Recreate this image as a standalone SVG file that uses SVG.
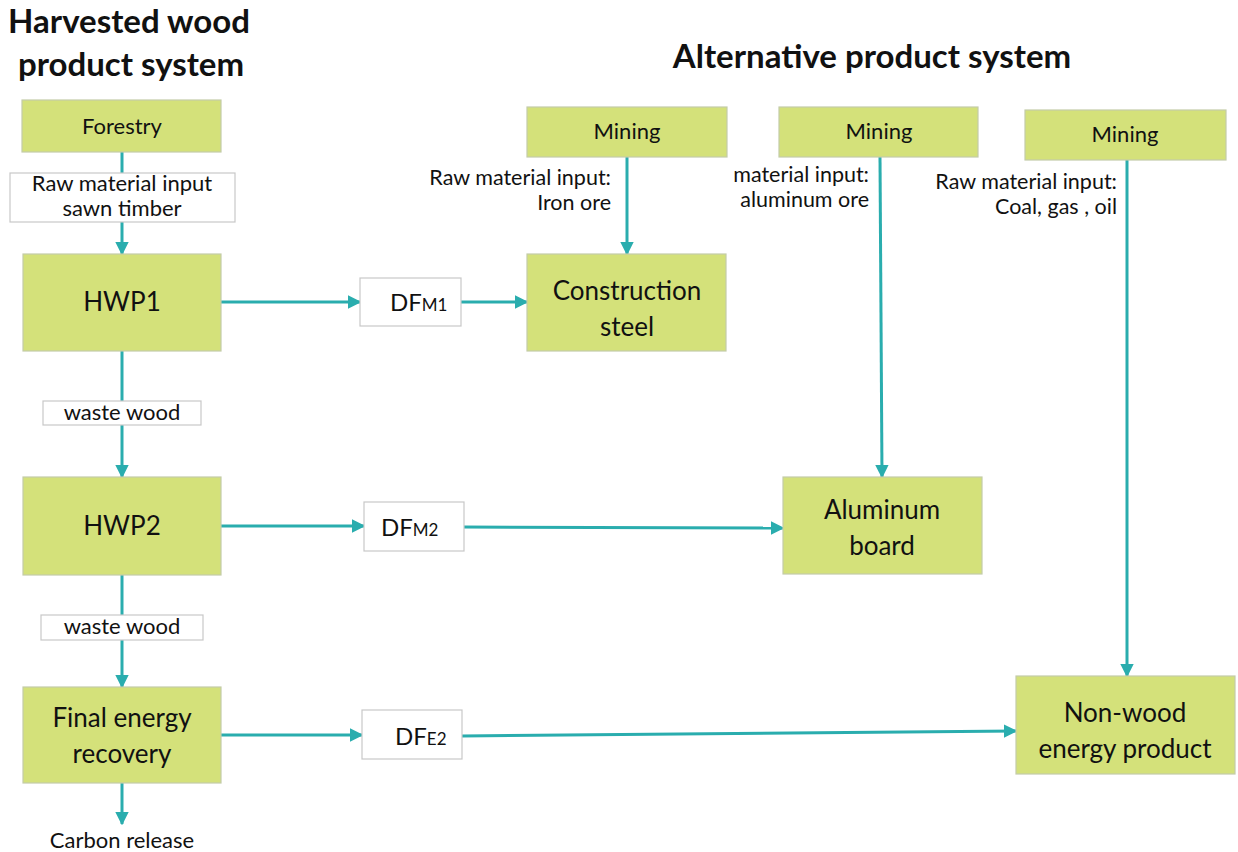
<svg xmlns="http://www.w3.org/2000/svg" width="1238" height="852" viewBox="0 0 1238 852">
<style>
text{font-family:Lato,"Open Sans","Liberation Sans",sans-serif;fill:#111;}
.g{fill:#D4E17A;stroke:#C4CCA8;stroke-width:1.2;}
.w{fill:#fff;stroke:#C8C8C8;stroke-width:1.2;}
.t{font-weight:bold;font-size:33px;}
.s{font-size:22px;text-anchor:middle;}
.r{font-size:21.5px;text-anchor:end;}
.m{font-size:26px;text-anchor:middle;}
.c line{stroke:#2AADAE;stroke-width:3;marker-end:url(#a);}
</style>
<defs>
<marker id="a" viewBox="0 0 10 10" refX="9" refY="5" markerWidth="4.5" markerHeight="4.5" orient="auto" markerUnits="strokeWidth">
<path d="M0,0 L10,5 L0,10 z" fill="#2AADAE"/>
</marker>
</defs>
<text class="t" x="129" y="33" text-anchor="middle">Harvested wood</text>
<text class="t" x="131" y="76" text-anchor="middle">product system</text>
<text class="t" x="872" y="68" text-anchor="middle">Alternative product system</text>
<g class="c">
<line x1="122" y1="152" x2="122" y2="254"/>
<line x1="122" y1="351" x2="122" y2="477"/>
<line x1="122" y1="575" x2="122" y2="687"/>
<line x1="122" y1="783" x2="122" y2="824"/>
<line x1="221" y1="302" x2="360" y2="302"/>
<line x1="461" y1="302" x2="527" y2="302"/>
<line x1="627" y1="157" x2="627" y2="254"/>
<line x1="880" y1="157" x2="882" y2="477"/>
<line x1="1127" y1="160" x2="1127" y2="676"/>
<line x1="221" y1="526" x2="364" y2="526"/>
<line x1="464" y1="527" x2="783" y2="528"/>
<line x1="221" y1="735" x2="362" y2="735"/>
<line x1="462" y1="736" x2="1016" y2="731"/>
</g>
<g id="forestry"><rect class="g" x="22" y="100" width="199" height="52"/><text class="s" x="122" y="134">Forestry</text></g>
<g id="rawinput"><rect class="w" x="10" y="173" width="225" height="49"/><text class="s" x="122" y="191" font-size="21.5">Raw material input</text><text class="s" x="122" y="216" font-size="21.5">sawn timber</text></g>
<g id="hwp1"><rect class="g" x="23" y="254" width="198" height="97"/><text class="m" x="122" y="311">HWP1</text></g>
<g id="waste1"><rect class="w" x="43" y="401" width="158" height="24"/><text class="s" x="122" y="420">waste wood</text></g>
<g id="hwp2"><rect class="g" x="23" y="477" width="198" height="98"/><text class="m" x="122" y="535">HWP2</text></g>
<g id="waste2"><rect class="w" x="41" y="615" width="162" height="25"/><text class="s" x="122" y="634">waste wood</text></g>
<g id="final"><rect class="g" x="23" y="687" width="198" height="96"/><text class="m" x="122" y="727">Final energy</text><text class="m" x="122" y="763">recovery</text></g>
<g id="carbon"><text class="s" x="122" y="848">Carbon release</text></g>
<g id="dfm1"><rect class="w" x="360" y="278" width="101" height="48"/><text x="390" y="311" font-size="24">DF<tspan font-size="17">M1</tspan></text></g>
<g id="steel"><rect class="g" x="527" y="254" width="199" height="97"/><text class="m" x="627" y="300">Construction</text><text class="m" x="627" y="336">steel</text></g>
<g id="mining1"><rect class="g" x="527" y="107" width="200" height="50"/><text class="s" x="627" y="139">Mining</text></g>
<text class="r" x="611" y="185">Raw material input:</text><text class="r" x="611" y="210">Iron ore</text>
<g id="mining2"><rect class="g" x="779" y="107" width="199" height="50"/><text class="s" x="879" y="139">Mining</text></g>
<text class="r" x="869" y="182">material input:</text><text class="r" x="869" y="207">aluminum ore</text>
<g id="mining3"><rect class="g" x="1025" y="110" width="201" height="50"/><text class="s" x="1125" y="142">Mining</text></g>
<text class="r" x="1117" y="189">Raw material input:</text><text class="r" x="1117" y="214">Coal, gas , oil</text>
<g id="dfm2"><rect class="w" x="364" y="502" width="100" height="49"/><text x="381" y="536" font-size="24">DF<tspan font-size="17">M2</tspan></text></g>
<g id="aluminum"><rect class="g" x="783" y="477" width="199" height="97"/><text class="m" x="882" y="519">Aluminum</text><text class="m" x="882" y="555">board</text></g>
<g id="dfe2"><rect class="w" x="362" y="710" width="100" height="49"/><text x="395" y="745" font-size="24">DF<tspan font-size="17">E2</tspan></text></g>
<g id="nonwood"><rect class="g" x="1016" y="676" width="219" height="98"/><text class="m" x="1125" y="722">Non-wood</text><text class="m" x="1125" y="758">energy product</text></g>
</svg>
